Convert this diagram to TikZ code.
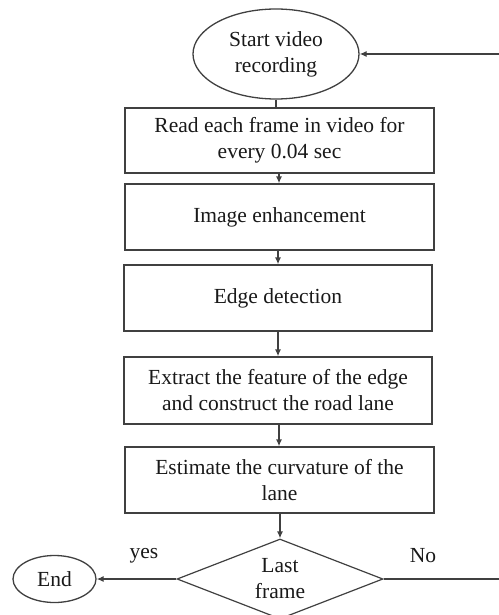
\documentclass[tikz,border=0pt]{standalone}
\usepackage{fontspec}
\setmainfont{Liberation Serif}
\usetikzlibrary{shapes.geometric,arrows.meta}
\begin{document}
\begin{tikzpicture}[x=1pt,y=-1pt,
  every node/.style={font=\fontsize{21.5}{26}\selectfont, text=black!90, align=center, inner sep=0pt},
  boxstyle/.style={draw=black!75, line width=1.3pt, rectangle, minimum width=309pt, minimum height=66pt},
  ovalstyle/.style={draw=black!75, line width=1.3pt, ellipse},
  decstyle/.style={draw=black!75, line width=1.2pt, diamond, aspect=2.575, minimum width=206pt, minimum height=80pt},
  conn/.style={draw=black!75, line width=1.3pt},
  arr/.style={conn, -{Latex[length=7pt,width=6pt]}}]
\useasboundingbox (0,0) rectangle (498,615);
\node[ovalstyle, minimum width=166pt, minimum height=90pt] (start) at (276,54) {Start video\\recording};
\node[boxstyle, minimum height=65pt] (b1) at (279.5,140.5) {Read each frame in video for\\every 0.04 sec};
\node[boxstyle] (b2) at (279.5,217) {Image enhancement};
\node[boxstyle, minimum width=308pt] (b3) at (278,298) {Edge detection};
\node[boxstyle, minimum width=308pt, minimum height=67pt] (b4) at (278,390.5) {Extract the feature of the edge\\and construct the road lane};
\node[boxstyle] (b5) at (279.5,480) {Estimate the curvature of the\\lane};
\node[decstyle] (dec) at (280,579) {Last\\frame};
\node[ovalstyle, minimum width=83pt, minimum height=47pt] (end) at (54.5,579) {End};
\node (yes) at (144,556) {yes};
\node (no) at (423,556) {No};
\coordinate (rb) at (500,579);
\coordinate (rt) at (500,54);
\draw[conn] (start.south) -- (start.south |- b1.north);
\draw[arr] (b1.south -| 279,0) -- (b2.north -| 279,0);
\draw[arr] (b2.south -| 278,0) -- (b3.north -| 278,0);
\draw[arr] (b3.south -| 278,0) -- (b4.north -| 278,0);
\draw[arr] (b4.south -| 279,0) -- (b5.north -| 279,0);
\draw[arr] (b5.south -| 280,0) -- (dec.north);
\draw[arr] (dec.west) -- (end.east);
\draw[arr] (dec.east) -- (rb) -- (rt) -- (start.east);
\end{tikzpicture}
\end{document}
